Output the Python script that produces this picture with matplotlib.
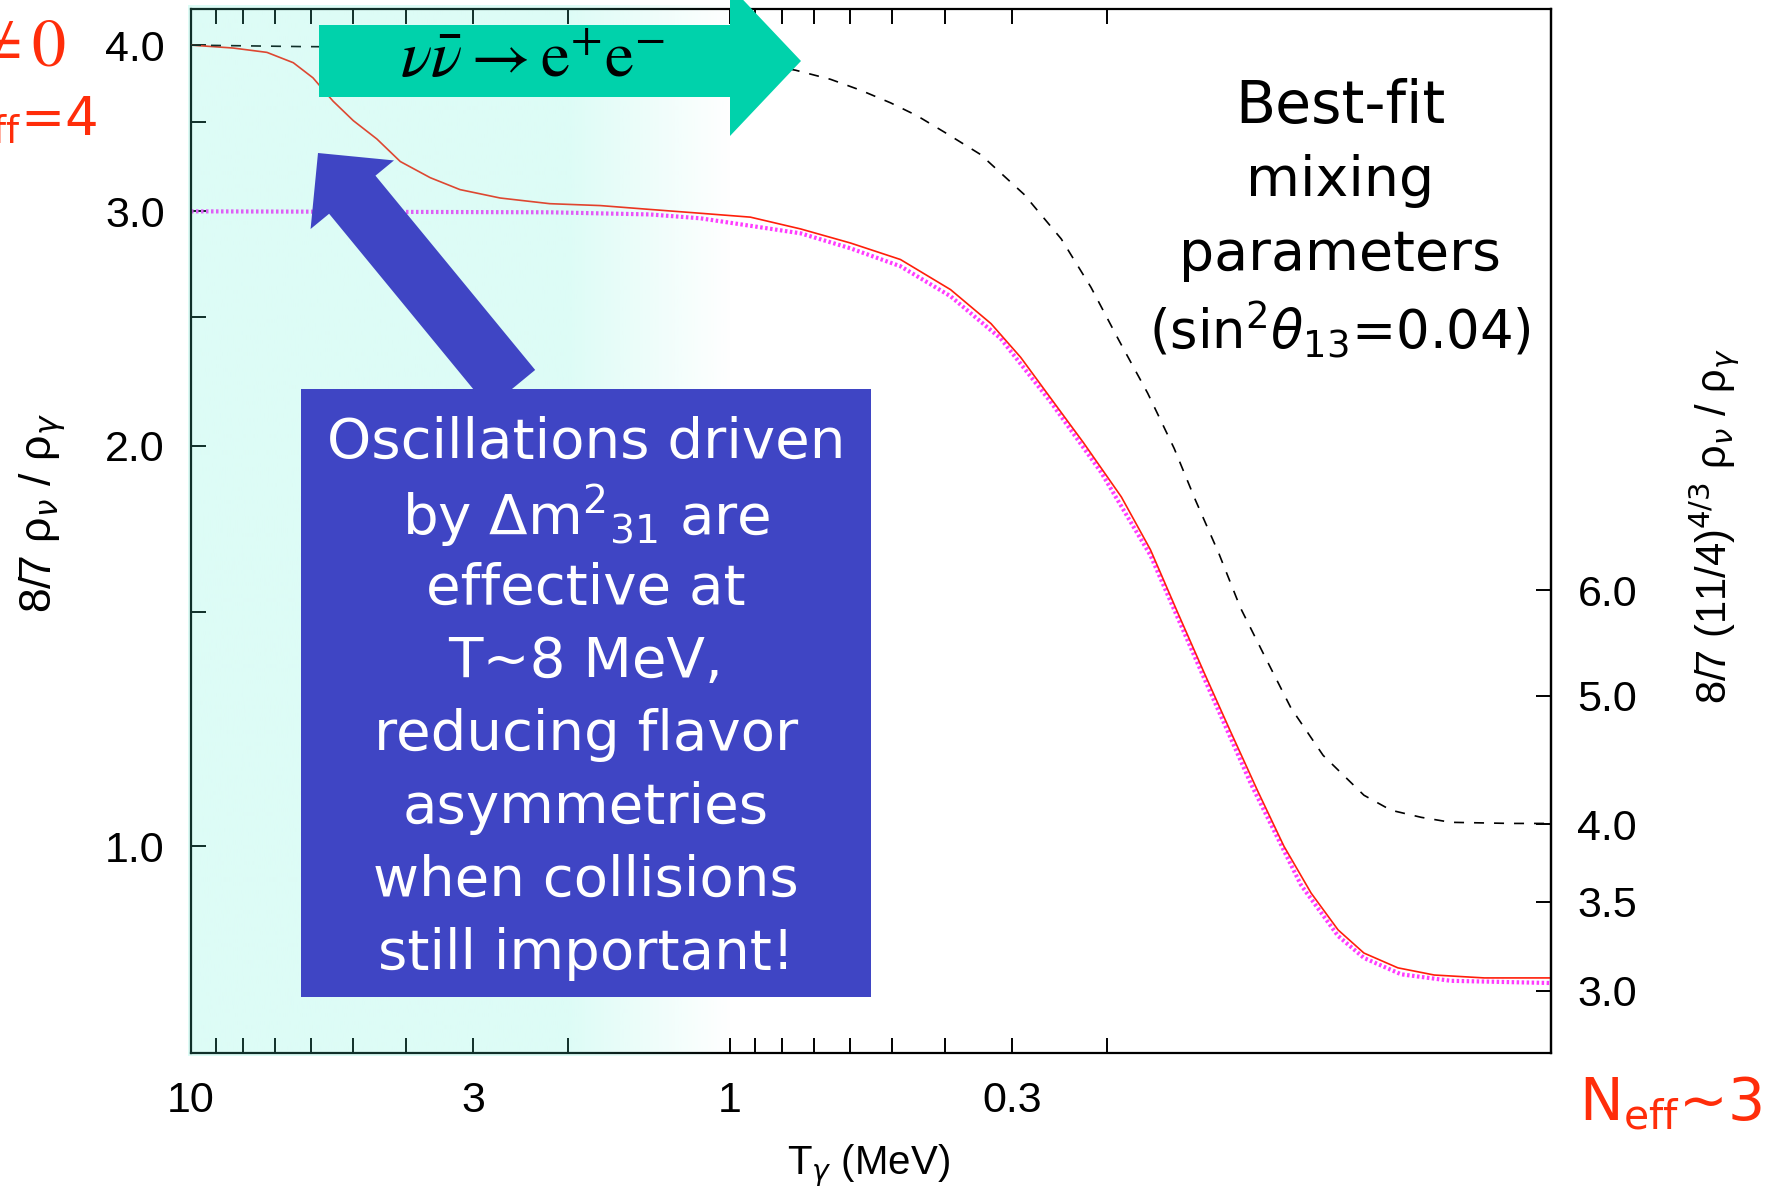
import matplotlib.pyplot as plt
import numpy as np
from matplotlib.patches import FancyArrow, Rectangle
from matplotlib.ticker import NullFormatter, NullLocator

plt.rcParams['font.family'] = ['Liberation Sans', 'DejaVu Sans']

# photon temperature (MeV) and 8/7 rho_nu / rho_gamma
# black dashed: no oscillations
T_black = [10, 6.28, 2.67, 1.41, 1.0, 0.756, 0.651, 0.573, 0.504, 0.45, 0.40,
           0.343, 0.285, 0.243, 0.214, 0.190, 0.168, 0.150, 0.137, 0.124, 0.113,
           0.102, 0.0911, 0.0794, 0.0667, 0.0594, 0.0522, 0.046, 0.0356, 0.03]
r_black = [4.00, 3.99, 3.98, 3.95, 3.91, 3.83, 3.77, 3.70, 3.62, 3.54, 3.44,
           3.31, 3.09, 2.86, 2.63, 2.40, 2.19, 1.99, 1.82, 1.66, 1.51,
           1.39, 1.27, 1.17, 1.092, 1.064, 1.051, 1.042, 1.040, 1.040]

# red solid: best-fit mixing
T_red = [10, 8.36, 7.23, 6.46, 5.94, 5.45, 5.00, 4.52, 4.09, 3.60, 3.17, 2.67,
         2.16, 1.74, 1.41, 1.135, 0.917, 0.740, 0.598, 0.483, 0.390, 0.328,
         0.289, 0.254, 0.221, 0.188, 0.166, 0.148, 0.132, 0.118, 0.105, 0.0939,
         0.0836, 0.0745, 0.0667, 0.0577, 0.0494, 0.0399, 0.03]
r_red = [4.00, 3.98, 3.95, 3.88, 3.78, 3.63, 3.51, 3.40, 3.27, 3.18, 3.115, 3.07,
         3.04, 3.03, 3.01, 2.99, 2.97, 2.91, 2.84, 2.76, 2.62, 2.47,
         2.33, 2.17, 2.01, 1.83, 1.67, 1.50, 1.35, 1.22, 1.10, 1.00,
         0.922, 0.865, 0.831, 0.810, 0.800, 0.796, 0.796]

# magenta dotted: standard three flavours
T_mag = [10, 2.16, 1.41, 1.135, 0.740, 0.598, 0.483, 0.390, 0.315, 0.254,
         0.205, 0.166, 0.134, 0.108, 0.0873, 0.0745, 0.0667, 0.0569, 0.046, 0.03]
r_mag = [3.00, 2.995, 2.984, 2.964, 2.888, 2.814, 2.728, 2.590, 2.408, 2.156,
         1.910, 1.654, 1.356, 1.113, 0.935, 0.856, 0.824, 0.801, 0.792, 0.789]

x_major = [10, 3, 1, 0.3]
x_labels = ['10', '3', '1', '0.3']
x_minor = [9, 8, 7, 6, 5, 4, 2, 0.9, 0.8, 0.7, 0.6, 0.5, 0.4, 0.2]
y_major = [1.0, 2.0, 3.0, 4.0]
y_minor = [1.5, 2.5, 3.5]
y2_major = [3.0, 3.5, 4.0, 5.0, 6.0]
ratio = (11 / 4) ** (4 / 3)

box_lines = ['Oscillations driven', r'by Δm$^{2}$$_{31}$ are', 'effective at',
             'T~8 MeV,', 'reducing flavor', 'asymmetries', 'when collisions',
             'still important!']
fit_lines = ['Best-fit', 'mixing', 'parameters', r'(sin$^{2}\theta_{13}$=0.04)']

W, H = 1769, 1192
fig = plt.figure(figsize=(W / 100, H / 100), dpi=100)
ax = fig.add_axes([191 / W, 1 - 1053 / H, 1360 / W, 1044 / H])

ax.plot(T_mag, r_mag, color='#ff3cff', lw=3.0, linestyle=(0, (0.6, 0.6)), zorder=2)
ax.plot(T_red, r_red, color='#ff1e0a', lw=1.2, zorder=3)
ax.plot(T_black, r_black, color='black', lw=1.2, linestyle=(0, (6, 6)), zorder=3)

ax.set_xscale('log')
ax.set_yscale('log')
ax.set_xlim(10, 0.03)
ax.set_ylim(0.699, 4.258)
ax.set_xticks(x_major, x_labels)
ax.set_xticks(x_minor, minor=True)
ax.xaxis.set_minor_formatter(NullFormatter())
ax.set_yticks(y_major, ['%.1f' % v for v in y_major])
ax.set_yticks(y_minor, minor=True)
ax.yaxis.set_minor_formatter(NullFormatter())
ax.tick_params(which='both', direction='in', length=11, width=1.4, top=True)
ax.tick_params(axis='y', labelsize=31, pad=19)
ax.tick_params(axis='x', labelsize=31, pad=20)
for s in ax.spines.values():
    s.set_linewidth(1.6)

ax.set_xlabel(r'T$_\gamma$ (MeV)', fontsize=29)
ax.xaxis.set_label_coords(0.4985, -0.108)
ax.xaxis.label.set_va('center')
ax.set_ylabel(r'8/7 ρ$_\nu$ / ρ$_\gamma$', fontsize=32)
ax.yaxis.set_label_coords(-0.109, 0.517)
ax.yaxis.label.set_va('center')

ax2 = ax.twinx()
ax2.set_yscale('log')
ax2.set_ylim(0.699 * ratio, 4.258 * ratio)
ax2.set_yticks(y2_major, ['%.1f' % v for v in y2_major])
ax2.yaxis.set_minor_locator(NullLocator())
ax2.tick_params(direction='in', length=11, width=1.4, labelsize=31, pad=19)
for k in ['left', 'top', 'bottom']:
    ax2.spines[k].set_visible(False)
ax2.spines['right'].set_linewidth(1.6)
ax2.set_ylabel(r'8/7 (11/4)$^{4/3}$ ρ$_\nu$ / ρ$_\gamma$', fontsize=30)
ax2.yaxis.set_label_coords(1.12, 0.505)
ax2.yaxis.label.set_va('center')

# translucent mint shading over the high-temperature part
sh = fig.add_axes(ax.get_position())
sh.axis('off')
xs = np.linspace(0, 1, 500)
grad = np.zeros((1, 500, 4))
grad[..., 0] = 85 / 255
grad[..., 1] = 240 / 255
grad[..., 2] = 210 / 255
grad[0, :, 3] = np.clip((0.40 - xs) / (0.40 - 0.279), 0, 1) * 0.2
sh.imshow(grad, extent=[-0.002, 1, -0.003, 1.003], aspect='auto',
          interpolation='bilinear', clip_on=False)
sh.set_xlim(0, 1)
sh.set_ylim(0, 1)

# annotation layer in pixel coordinates
ov = fig.add_axes([0, 0, 1, 1])
ov.set_xlim(0, W)
ov.set_ylim(H, 0)
ov.axis('off')
ov.patch.set_visible(False)

ov.add_patch(FancyArrow(319, 61, 482, 0, width=72, head_width=150, head_length=71,
                        length_includes_head=True, color='#00d2ab', lw=0))
ov.text(533, 60, r'$\nu\bar{\nu}\rightarrow\mathrm{e}^{+}\mathrm{e}^{-}$',
        fontsize=47, math_fontfamily='stix', ha='center', va='center')

ov.add_patch(FancyArrow(512, 389, -194, -236, width=60, head_width=108,
                        head_length=54, length_includes_head=True,
                        color='#3f45c4', lw=0))
ov.add_patch(Rectangle((301, 389), 570, 608, color='#3f45c4', lw=0))
for i, line in enumerate(box_lines):
    ov.text(586, 443 + i * 73, line, fontsize=40.5, family='DejaVu Sans',
            color='white', ha='center', va='center')

fit_sizes = [42, 40, 40, 38]
for i, line in enumerate(fit_lines):
    ov.text(1340, 107 + i * 74, line, fontsize=fit_sizes[i], family='DejaVu Sans',
            color='black', ha='center', va='center')

ov.text(66, 66, r'$\theta_{13}\neq0$', fontsize=49, math_fontfamily='stix',
        color='#ff2d0a', ha='right', va='baseline')
ov.text(97, 135, r'N$_{\mathrm{eff}}$=4', fontsize=38, family='DejaVu Sans',
        color='#ff2d0a', ha='right', va='baseline')
ov.text(1579, 1103, r'N$_{\mathrm{eff}}$~3', fontsize=42, family='DejaVu Sans',
        color='#ff2d0a', ha='left', va='center')

fig.savefig('out.png', dpi=100)
